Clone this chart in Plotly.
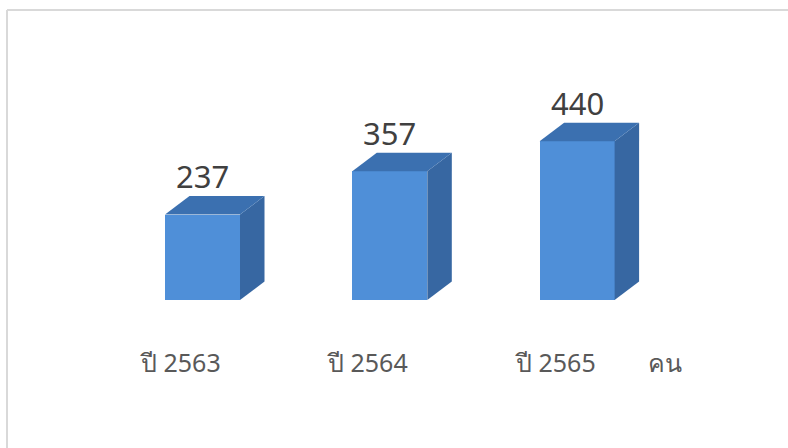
import plotly.graph_objects as go

categories = ["ปี 2563", "ปี 2564", "ปี 2565"]
values = [237, 357, 440]
unit_label = "คน"

W, H = 788, 448
# pixel mapping helpers (plot area = whole figure)
px_per_x = 187.3
px_per_y = 0.3607
x0_px = 202.5
y0_px = 300
xr = [-x0_px / px_per_x, (W - x0_px) / px_per_x]
yr = [-(H - y0_px) / px_per_y, y0_px / px_per_y]

half_w = 37.5 / px_per_x
dx = 24.5 / px_per_x
dy = 18.5 / px_per_y

front_col = "#4f8fd8"
side_col = "#3767a2"
top_col = "#3b70b0"

fig = go.Figure()

xs = list(range(len(categories)))
fig.add_trace(go.Bar(x=xs, y=values, width=2 * half_w,
                     marker=dict(color=front_col, line=dict(width=0)),
                     hoverinfo="skip", showlegend=False))

for i, v in zip(xs, values):
    xl, xrt = i - half_w, i + half_w
    # side face
    fig.add_trace(go.Scatter(
        x=[xrt, xrt + dx, xrt + dx, xrt, xrt],
        y=[0, dy, v + dy, v, 0],
        fill="toself", fillcolor=side_col, mode="lines",
        line=dict(width=0, color=side_col), hoverinfo="skip", showlegend=False))
    # top face
    fig.add_trace(go.Scatter(
        x=[xl, xl + dx, xrt + dx, xrt, xl],
        y=[v, v + dy, v + dy, v, v],
        fill="toself", fillcolor=top_col, mode="lines",
        line=dict(width=0, color=top_col), hoverinfo="skip", showlegend=False))
    fig.add_annotation(x=i, y=v + dy, text=str(v), showarrow=False,
                       yanchor="middle", yshift=20,
                       font=dict(size=31, color="#404040", family="Noto Sans, sans-serif"))
    fig.add_annotation(x=i - 22 / px_per_x, y=-62 / px_per_y, text=categories[i],
                       showarrow=False, yanchor="middle",
                       font=dict(size=25, color="#595959", family="Noto Sans, sans-serif"))

fig.add_annotation(x=(665 - x0_px) / px_per_x, y=-62 / px_per_y, text=unit_label,
                   showarrow=False, yanchor="middle",
                   font=dict(size=25, color="#595959", family="Noto Sans, sans-serif"))

# chart frame: only top and left edges are visible in the crop
fig.add_shape(type="line", xref="paper", yref="paper",
              x0=7 / W, x1=1.0, y0=1 - 10 / H, y1=1 - 10 / H,
              line=dict(color="#d9d9d9", width=2))
fig.add_shape(type="line", xref="paper", yref="paper",
              x0=7 / W, x1=7 / W, y0=0.0, y1=1 - 10 / H,
              line=dict(color="#d9d9d9", width=2))

fig.update_layout(
    width=W, height=H,
    margin=dict(l=0, r=0, t=0, b=0),
    paper_bgcolor="white", plot_bgcolor="white",
    xaxis=dict(range=xr, visible=False, fixedrange=True),
    yaxis=dict(range=yr, visible=False, fixedrange=True),
    bargap=0,
)

fig.write_html("out.html")
